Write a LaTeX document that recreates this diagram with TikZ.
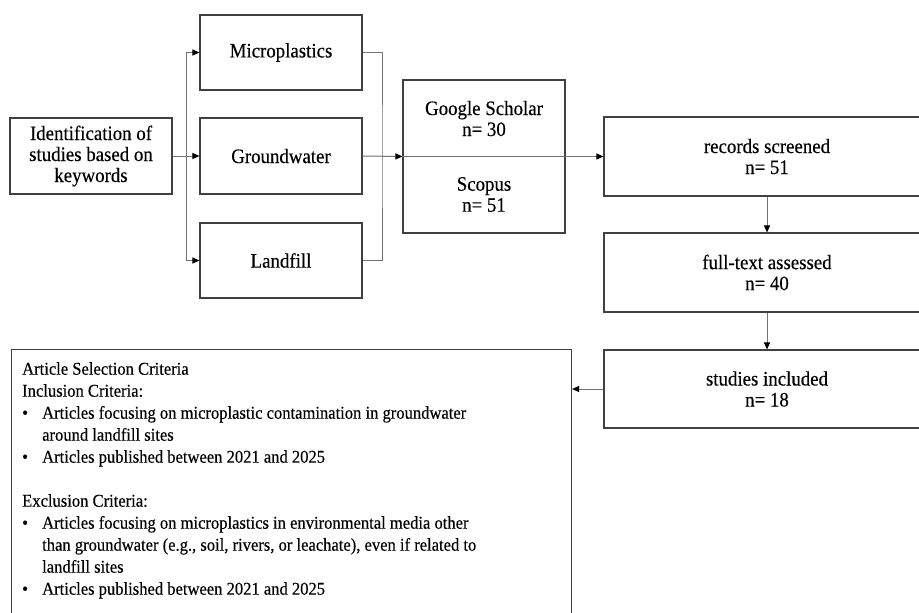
\documentclass[tikz,border=0pt]{standalone}
\usepackage{fontspec}
\setmainfont{Liberation Serif}[FakeStretch=0.92,FakeBold=0.3]
\usetikzlibrary{arrows.meta}
\begin{document}
\begin{tikzpicture}[x=1pt,y=-1pt,
  box/.style={draw=black!75,line width=1.1pt,inner sep=0pt,align=center,
    font=\fontsize{20.5}{21}\selectfont},
  lbl/.style={inner sep=0pt,align=center,font=\fontsize{20.5}{21}\selectfont},
  conn/.style={draw=black!55,line width=1pt},
  arr/.style={conn,-{Triangle[length=7pt,width=6pt,fill=black,color=black]}}]
\useasboundingbox (0,0) rectangle (919,613);
\fill[white] (0,0) rectangle (919,613);
% left boxes
\node[box,minimum width=162pt,minimum height=76pt] (id) at (91,156) {Identification of\\studies based on\\keywords};
\node[box,minimum width=162pt,minimum height=75pt] (mp) at (281,52.5) {Microplastics};
\node[box,minimum width=162pt,minimum height=76pt] (gw) at (281,156) {Groundwater};
\node[box,minimum width=162pt,minimum height=75pt] (lf) at (281,260.5) {Landfill};
% database box
\node[box,minimum width=162pt,minimum height=153pt] (db) at (484,156.5) {};
\node[lbl] (gs) at (484,118.5) {Google Scholar\\n= 30};
\node[lbl] (sc) at (484,194.5) {Scopus\\n= 51};
% right column
\node[box,minimum width=326pt,minimum height=79pt] (rec) at (767,156.5) {records screened\\n= 51};
\node[box,minimum width=326pt,minimum height=79pt] (ft) at (767,272.5) {full-text assessed\\n= 40};
\node[box,minimum width=326pt,minimum height=78pt] (si) at (767,389) {studies included\\n= 18};
% criteria box
\node[box,anchor=north west,minimum width=560pt,minimum height=268pt] (crit) at (11,349) {};
\node[anchor=north west,inner sep=0pt,align=left,font=\fontsize{18}{22}\selectfont] (ct) at (22,362)
{Article Selection Criteria\\
Inclusion Criteria:\\
\makebox[20pt][l]{\textbullet}Articles focusing on microplastic contamination in groundwater\\
\hspace*{20pt}around landfill sites\\
\makebox[20pt][l]{\textbullet}Articles published between 2021 and 2025\\[22pt]
Exclusion Criteria:\\
\makebox[20pt][l]{\textbullet}Articles focusing on microplastics in environmental media other\\
\hspace*{20pt}than groundwater (e.g., soil, rivers, or leachate), even if related to\\
\hspace*{20pt}landfill sites\\
\makebox[20pt][l]{\textbullet}Articles published between 2021 and 2025};
% connectors
\coordinate (br) at (186,156);
\coordinate (mg) at (382,156);
\draw[arr] (id.east) -- (gw.west);
\draw[arr] (br) |- (mp.west);
\draw[arr] (br) |- (lf.west);
\draw[conn] (mp.east) -| (mg) |- (lf.east);
\draw[arr] (gw.east) -- (db.west);
\draw[arr] (db.west) -- (rec.west);
\draw[arr] (rec.south) -- (ft.north);
\draw[arr] (ft.south) -- (si.north);
\draw[arr] (si.west) -- (si.west -| crit.east);
\end{tikzpicture}
\end{document}
